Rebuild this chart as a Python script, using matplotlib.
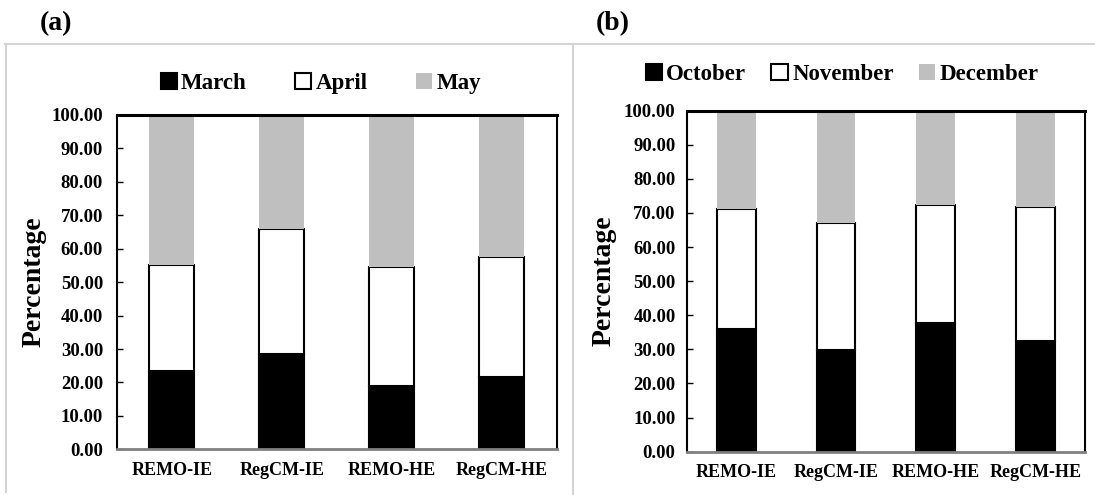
import matplotlib
import matplotlib.pyplot as plt
from matplotlib.lines import Line2D

matplotlib.use("Agg")

plt.rcParams["font.family"] = ["Liberation Serif", "DejaVu Serif"]
plt.rcParams["font.weight"] = "bold"

# Data
models = ["REMO-IE", "RegCM-IE", "REMO-HE", "RegCM-HE"]

spring_months = ["March", "April", "May"]
march = [23.4, 28.5, 19.0, 21.5]
april = [31.8, 37.5, 35.5, 36.1]
may = [44.8, 34.0, 45.5, 42.4]

autumn_months = ["October", "November", "December"]
october = [36.1, 29.8, 37.6, 32.4]
november = [35.0, 37.2, 34.6, 39.5]
december = [28.9, 33.0, 27.8, 28.1]

yticks = [0, 10, 20, 30, 40, 50, 60, 70, 80, 90, 100]
ytick_labels = ["%.2f" % v for v in yticks]

GREY = "#bfbfbf"


def stacked(ax, series, names, width):
    x = range(len(models))
    bottom = [0.0] * len(models)
    styles = [
        dict(color="black", edgecolor="black", linewidth=1.5),
        dict(color="white", edgecolor="black", linewidth=1.5),
        dict(color=GREY, edgecolor=GREY, linewidth=0),
    ]
    handles = []
    for vals, name, st in zip(series, names, styles):
        b = ax.bar(x, vals, width, bottom=bottom, label=name, zorder=2, **st)
        handles.append(b)
        bottom = [p + q for p, q in zip(bottom, vals)]

    ax.set_xlim(-0.5, len(models) - 0.5)
    ax.set_ylim(0, 100)
    ax.set_yticks(yticks)
    ax.set_yticklabels(ytick_labels)
    ax.set_xticks(list(x))
    ax.set_xticklabels(models)
    ax.tick_params(axis="y", direction="in", length=4, width=1, labelsize=13.5)
    ax.tick_params(axis="x", length=0, labelsize=13, pad=9)
    for s in ["left", "right"]:
        ax.spines[s].set_linewidth(1.5)
        ax.spines[s].set_color("black")
    ax.spines["top"].set_linewidth(2.2)
    ax.spines["top"].set_zorder(3)
    ax.spines["bottom"].set_linewidth(2)
    ax.spines["bottom"].set_color("#808080")
    ax.set_ylabel("Percentage", fontsize=20, fontweight="bold")
    return handles


fig = plt.figure(figsize=(10.95, 4.95), dpi=100)

ax1 = fig.add_axes([0.1068, 0.0923, 0.4018, 0.6754])
h1 = stacked(ax1, [march, april, may], spring_months, 0.41)
ax1.tick_params(axis="y", pad=10)
ax1.yaxis.set_label_coords(-0.159, 0.5)
fig.legend(h1, spring_months, loc="center", bbox_to_anchor=(0.293, 0.832),
           ncol=3, frameon=False, fontsize=16.5, handlelength=0.7,
           handleheight=0.7, handletextpad=0.2, columnspacing=2.1)

ax2 = fig.add_axes([0.6271, 0.0875, 0.3638, 0.6889])
h2 = stacked(ax2, [october, november, december], autumn_months, 0.39)
ax2.tick_params(axis="y", pad=8)
ax2.yaxis.set_label_coords(-0.175, 0.5)
fig.legend(h2, autumn_months, loc="center", bbox_to_anchor=(0.769, 0.85),
           ncol=3, frameon=False, fontsize=16.5, handlelength=0.7,
           handleheight=0.7, handletextpad=0.2, columnspacing=1.1)

# panel letters
fig.text(40 / 1095, 1 - 24 / 495, "(a)", fontsize=20, fontweight="bold",
         ha="left", va="center")
fig.text(596 / 1095, 1 - 24 / 495, "(b)", fontsize=20, fontweight="bold",
         ha="left", va="center")

# light grey frame lines around the panels
frame = "#d4d4d4"
fig.add_artist(Line2D([5 / 1095, 1], [1 - 44 / 495] * 2, color=frame, lw=1.5))
fig.add_artist(Line2D([5.5 / 1095] * 2, [1 - 44 / 495, 1 - 492 / 495],
                      color=frame, lw=1.5))
fig.add_artist(Line2D([573 / 1095] * 2, [1 - 44 / 495, 0], color=frame, lw=1.5))

fig.savefig("out.png", dpi=100, facecolor="white")
